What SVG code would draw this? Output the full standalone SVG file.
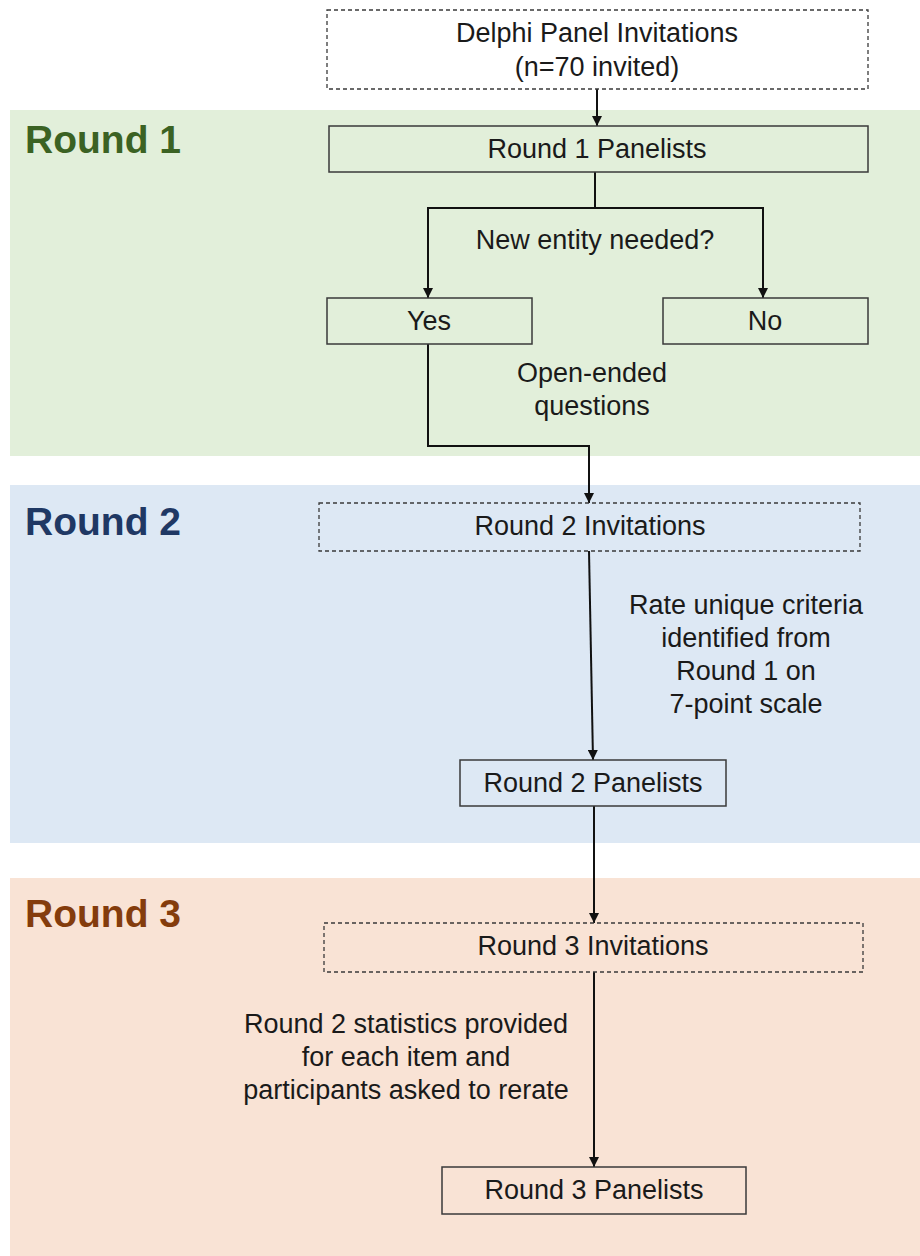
<svg xmlns="http://www.w3.org/2000/svg" width="920" height="1256" viewBox="0 0 920 1256">
<style>
.t{font-family:"Liberation Sans",Arial,sans-serif;font-size:27px;fill:#1a1a1a;text-anchor:middle}
.h{font-family:"Liberation Sans",Arial,sans-serif;font-size:39px;font-weight:bold}
.box{stroke:#3a3a3a;stroke-width:1.5;fill:none}
.dash{stroke:#3a3a3a;stroke-width:1.3;fill:none;stroke-dasharray:4 3}
.c{stroke:#111;stroke-width:2;fill:none}
</style>
<defs>
<marker id="ah" viewBox="0 0 10 10" refX="10" refY="5" markerWidth="11" markerHeight="10" markerUnits="userSpaceOnUse" orient="auto">
<path d="M0,0 L10,5 L0,10 z" fill="#111"/>
</marker>
</defs>
<rect width="920" height="1256" fill="#fff"/>
<g id="panels">
<rect x="10" y="110" width="910" height="346" fill="#e2efda"/>
<rect x="10" y="485" width="910" height="358" fill="#dde8f4"/>
<rect x="10" y="878" width="910" height="378" fill="#f9e3d5"/>
<text class="h" x="25" y="153" fill="#3b6223">Round 1</text>
<text class="h" x="25" y="535" fill="#1f3864">Round 2</text>
<text class="h" x="25" y="927" fill="#843c0c">Round 3</text>
</g>
<g id="connectors">
<line class="c" x1="597" y1="89" x2="597" y2="126" marker-end="url(#ah)"/>
<polyline class="c" points="595,172 595,208"/>
<polyline class="c" points="428,298 428,208 763,208 763,298"/>
<line class="c" x1="428" y1="208" x2="428" y2="298" marker-end="url(#ah)"/>
<line class="c" x1="763" y1="208" x2="763" y2="298" marker-end="url(#ah)"/>
<polyline class="c" points="428,344 428,446 589,446 589,503" marker-end="url(#ah)"/>
<line class="c" x1="589" y1="551" x2="593" y2="760" marker-end="url(#ah)"/>
<line class="c" x1="594" y1="806" x2="594" y2="923" marker-end="url(#ah)"/>
<line class="c" x1="594" y1="972" x2="594" y2="1167" marker-end="url(#ah)"/>
<text class="t" x="595" y="249">New entity needed?</text>
<text class="t" x="592" y="382">Open-ended</text>
<text class="t" x="592" y="415">questions</text>
<text class="t" x="746" y="614">Rate unique criteria</text>
<text class="t" x="746" y="647">identified from</text>
<text class="t" x="746" y="680">Round 1 on</text>
<text class="t" x="746" y="713">7-point scale</text>
<text class="t" x="406" y="1033">Round 2 statistics provided</text>
<text class="t" x="406" y="1066">for each item and</text>
<text class="t" x="406" y="1099">participants asked to rerate</text>
</g>
<g id="invitations">
<rect class="dash" x="327" y="10" width="541" height="79"/>
<text class="t" x="597" y="42">Delphi Panel Invitations</text>
<text class="t" x="597" y="76">(n=70 invited)</text>
</g>
<g id="r1panelists">
<rect class="box" x="329" y="126" width="539" height="46"/>
<text class="t" x="597" y="158">Round 1 Panelists</text>
</g>
<g id="yes">
<rect class="box" x="327" y="298" width="205" height="46"/>
<text class="t" x="429" y="330">Yes</text>
</g>
<g id="no">
<rect class="box" x="663" y="298" width="205" height="46"/>
<text class="t" x="765" y="330">No</text>
</g>
<g id="r2invitations">
<rect class="dash" x="319" y="503" width="541" height="48"/>
<text class="t" x="590" y="535">Round 2 Invitations</text>
</g>
<g id="r2panelists">
<rect class="box" x="460" y="760" width="266" height="46"/>
<text class="t" x="593" y="792">Round 2 Panelists</text>
</g>
<g id="r3invitations">
<rect class="dash" x="324" y="923" width="539" height="49"/>
<text class="t" x="593" y="955">Round 3 Invitations</text>
</g>
<g id="r3panelists">
<rect class="box" x="442" y="1167" width="304" height="47"/>
<text class="t" x="594" y="1199">Round 3 Panelists</text>
</g>
</svg>
